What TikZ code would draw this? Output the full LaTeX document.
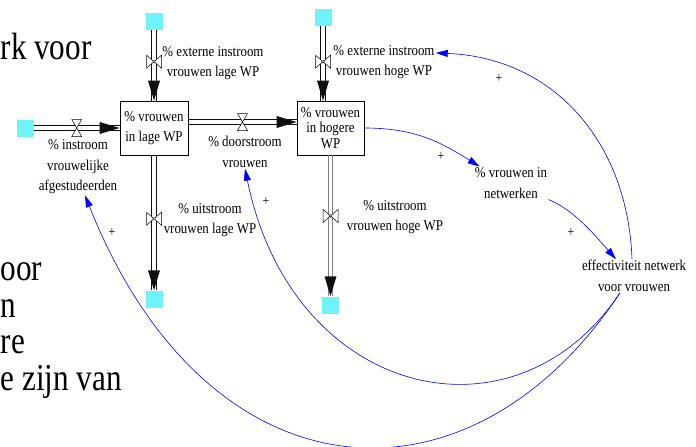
\documentclass[tikz,border=0pt]{standalone}
\usepackage{fontspec}
\setmainfont{Liberation Serif}
\newfontfamily\vensimfont[FakeStretch=0.86]{Liberation Serif}
\newfontfamily\slidefont[FakeStretch=0.82]{Liberation Serif}
\usetikzlibrary{arrows.meta,calc}

\definecolor{cloudcyan}{RGB}{112,242,250}
\definecolor{linkblue}{RGB}{0,0,255}
\definecolor{pipeblack}{RGB}{15,15,15}
\definecolor{pipegray}{RGB}{128,128,128}

\tikzset{
  stock/.style={draw, line width=0.6pt, minimum width=68pt, minimum height=54pt,
    inner sep=1pt, align=center, font=\vensimfont\fontsize{15}{20}\selectfont},
  cloudbox/.style={fill=cloudcyan, minimum size=17pt, inner sep=0pt},
  varlabel/.style={align=center, inner sep=1pt, font=\vensimfont\fontsize{15}{20.5}\selectfont},
  plus/.style={inner sep=0pt, font=\vensimfont\fontsize{14}{14}\selectfont},
  slidetext/.style={inner sep=0pt, anchor=base west, font=\slidefont\fontsize{38}{37}\selectfont},
  rail/.style={draw=#1, line width=0.7pt},
  rail/.default=pipeblack,
  pipetip/.style={fill=pipeblack},
  link/.style={draw=linkblue, line width=0.6pt, -{Triangle[length=12pt,width=7pt]}},
  valveh/.pic={\draw[fill=white, line width=0.5pt] (-5,-8.5) -- (5,-8.5) -- (-5,8.5) -- (5,8.5) -- cycle;},
  valvev/.pic={\draw[fill=white, line width=0.5pt] (-7.5,-6.5) -- (-7.5,6.5) -- (7.5,-6.5) -- (7.5,6.5) -- cycle;
    \draw[fill=white, line width=0.4pt] (0,0) circle (1.3);}
}

\begin{document}
\begin{tikzpicture}[x=1pt, y=-1pt]
  \useasboundingbox (0,0) rectangle (696,447);

  % slide text behind the model
  \node[slidetext] (bg1) at (0.5,59) {rk voor};
  \node[slidetext] (bg2) at (0.5,280) {oor};
  \node[slidetext] (bg3) at (0.5,317) {n};
  \node[slidetext] (bg4) at (0.5,353) {re};
  \node[slidetext] (bg5) at (0.5,390) {e zijn van};

  % stocks
  \node[stock] (lage) at (154,128) {\% vrouwen\\in lage WP};
  \node[stock, minimum width=67pt, font=\vensimfont\fontsize{15}{15.5}\selectfont] (hoge) at (330.5,128) {\% vrouwen\\in hogere\\WP};

  % clouds
  \node[cloudbox] (clin) at (25,128) {};
  \node[cloudbox] (cllagein) at (154,21) {};
  \node[cloudbox] (clhogein) at (323,17) {};
  \node[cloudbox] (cllageout) at (154,299) {};
  \node[cloudbox] (clhogeout) at (330.5,305) {};

  % flows (double pipes)
  \draw[rail] ([yshift=2.3pt]clin.east) -- ([yshift=2.3pt]lage.west);
  \draw[rail] ([yshift=-2.3pt]clin.east) -- ([yshift=-2.3pt]lage.west);
  \fill[pipetip] (lage.west) -- ++(-20,-6) -- ++(0,12) -- cycle;

  \draw[rail] ([xshift=-2.3pt]cllagein.south) -- ([xshift=-2.3pt]lage.north);
  \draw[rail] ([xshift=2.3pt]cllagein.south) -- ([xshift=2.3pt]lage.north);
  \fill[pipetip] (lage.north) -- ++(-6,-20) -- ++(12,0) -- cycle;

  \draw[rail] ([xshift=-2.3pt]clhogein.south) -- ([xshift=-2.3pt]clhogein |- hoge.north);
  \draw[rail] ([xshift=2.3pt]clhogein.south) -- ([xshift=2.3pt]clhogein |- hoge.north);
  \fill[pipetip] (clhogein |- hoge.north) -- ++(-6,-20) -- ++(12,0) -- cycle;

  \draw[rail] ([yshift=8.3pt]lage.east) -- ([yshift=8.3pt]hoge.west);
  \draw[rail] ([yshift=3.7pt]lage.east) -- ([yshift=3.7pt]hoge.west);
  \fill[pipetip] ([yshift=6pt]hoge.west) -- ++(-20,-6) -- ++(0,12) -- cycle;

  \draw[rail] ([xshift=-2.3pt]lage.south) -- ([xshift=-2.3pt]cllageout.north);
  \draw[rail] ([xshift=2.3pt]lage.south) -- ([xshift=2.3pt]cllageout.north);
  \fill[pipetip] (cllageout.north) -- ++(-6,-20) -- ++(12,0) -- cycle;

  \draw[rail=pipegray] ([xshift=-2.3pt]hoge.south) -- ([xshift=-2.3pt]clhogeout.north);
  \draw[rail=pipegray] ([xshift=2.3pt]hoge.south) -- ([xshift=2.3pt]clhogeout.north);
  \fill[pipetip] (clhogeout.north) -- ++(-6,-20) -- ++(12,0) -- cycle;

  % valves
  \pic at ($(clin.east)!0.5!(lage.west)$) {valveh};
  \pic at ($(lage.east)!0.5!(hoge.west)+(0,-6)$) {valveh};
  \pic at ($(cllagein.south)!0.45!(lage.north)$) {valvev};
  \pic at ($(clhogein.south)!0.48!(clhogein |- hoge.north)$) {valvev};
  \pic at ($(lage.south)!0.47!(cllageout.north)$) {valvev};
  \pic at ($(hoge.south)!0.43!(clhogeout.north)$) {valvev};

  % variables
  \node[varlabel] (lblin) at (78,167) {\% instroom\\vrouwelijke\\afgestudeerden};
  \node[varlabel] (lbldoor) at (245,152) {\% doorstroom\\vrouwen};
  \node[varlabel] (lblextlage) at (213,63) {\% externe instroom\\vrouwen lage WP};
  \node[varlabel] (lblexthoge) at (384,62) {\% externe instroom\\vrouwen hoge WP};
  \node[varlabel] (lbluitlage) at (210,220) {\% uitstroom\\vrouwen lage WP};
  \node[varlabel] (lbluithoge) at (395,217) {\% uitstroom\\vrouwen hoge WP};
  \node[varlabel] (netw) at (511,183) {\% vrouwen in\\netwerken};
  \node[varlabel] (eff) at (634,276) {effectiviteit netwerk\\voor vrouwen};

  % causal links
  \draw[link] (hoge.east) .. controls +(50,0) and +(-40,-25) .. ([xshift=6pt]netw.north west);
  \draw[link] (netw.south east) .. controls +(25,10) and +(-22,-25) .. ([xshift=-18pt]eff.north);
  \draw[link] ([xshift=-2pt]eff.north) .. controls +(-4,-115) and +(120,5) .. ([yshift=-9pt]lblexthoge.north east);
  \draw[link] ([xshift=-14pt]eff.south) .. controls +(-105,158) and +(47,230) .. (lbldoor.south);
  \draw[link] ([xshift=-14pt]eff.south) .. controls +(-151,228) and +(122,307) .. ([xshift=7pt]lblin.south);

  \node[plus] (p1) at (499,79) {+};
  \node[plus] (p2) at (441,157) {+};
  \node[plus] (p3) at (571,233) {+};
  \node[plus] (p4) at (266,202) {+};
  \node[plus] (p5) at (112,233) {+};
\end{tikzpicture}
\end{document}
